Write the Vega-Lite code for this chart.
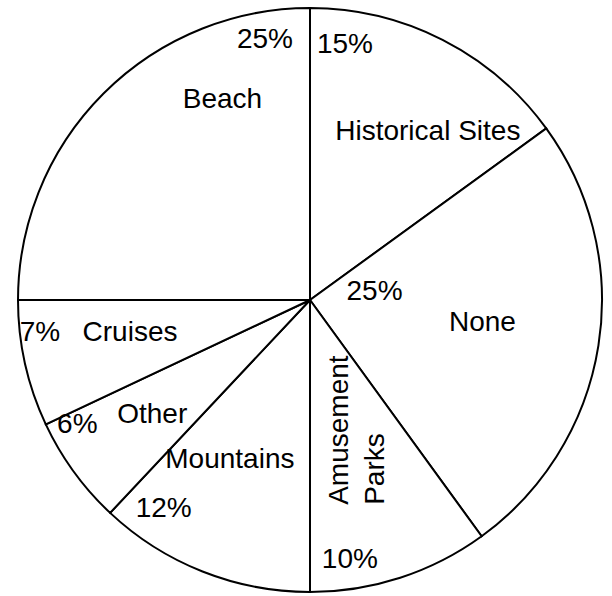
{
  "$schema": "https://vega.github.io/schema/vega-lite/v6.json",
  "width": 612,
  "height": 596,
  "autosize": {"type": "fit", "contains": "padding"},
  "padding": {"left": 8, "right": 0, "top": 4, "bottom": 0},
  "background": "white",
  "config": {"view": {"stroke": null}, "text": {"font": "Liberation Sans", "fontSize": 28, "fill": "black"}},
  "data": {"values": [
    {"name": "Historical Sites", "value": 15, "pct": "15%"},
    {"name": "None", "value": 25, "pct": "25%"},
    {"name": "Amusement\nParks", "value": 10, "pct": "10%"},
    {"name": "Mountains", "value": 12, "pct": "12%"},
    {"name": "Other", "value": 6, "pct": "6%"},
    {"name": "Cruises", "value": 7, "pct": "7%"},
    {"name": "Beach", "value": 25, "pct": "25%"}
  ]},
  "transform": [{"window": [{"op": "row_number", "as": "k"}]}],
  "encoding": {
    "theta": {"field": "value", "type": "quantitative", "stack": true},
    "order": {"field": "k", "type": "quantitative", "sort": "ascending"}
  },
  "layer": [
    {"mark": {"type": "arc", "fill": "white", "stroke": "black", "strokeWidth": 2}},
    {"mark": {"type": "text", "radius": 205, "thetaOffset": 0.141},
     "encoding": {"text": {"condition": {"test": "datum.name === 'Historical Sites'", "field": "name"}, "value": ""}}},
    {"mark": {"type": "text", "radius": 174, "thetaOffset": -0.024},
     "encoding": {"text": {"condition": {"test": "datum.name === 'None'", "field": "name"}, "value": ""}}},
    {"mark": {"type": "text", "radius": 179, "thetaOffset": 0.087},
     "encoding": {"text": {"condition": {"test": "datum.name === 'Mountains'", "field": "name"}, "value": ""}}},
    {"mark": {"type": "text", "radius": 195, "thetaOffset": 0.0},
     "encoding": {"text": {"condition": {"test": "datum.name === 'Other'", "field": "name"}, "value": ""}}},
    {"mark": {"type": "text", "radius": 183, "thetaOffset": 0.038},
     "encoding": {"text": {"condition": {"test": "datum.name === 'Cruises'", "field": "name"}, "value": ""}}},
    {"mark": {"type": "text", "radius": 218, "thetaOffset": 0.372},
     "encoding": {"text": {"condition": {"test": "datum.name === 'Beach'", "field": "name"}, "value": ""}}},
    {"mark": {"type": "text", "radius": 207, "thetaOffset": 0.169, "angle": 270, "align": "left", "lineBreak": "\n", "lineHeight": 36},
     "encoding": {"text": {"condition": {"test": "datum.name === 'Amusement\\nParks'", "field": "name"}, "value": ""}}},
    {"mark": {"type": "text", "radius": 257, "thetaOffset": -0.335},
     "encoding": {"text": {"condition": {"test": "datum.name === 'Historical Sites'", "field": "pct"}, "value": ""}}},
    {"mark": {"type": "text", "radius": 65, "thetaOffset": -0.279},
     "encoding": {"text": {"condition": {"test": "datum.name === 'None'", "field": "pct"}, "value": ""}}},
    {"mark": {"type": "text", "radius": 263, "thetaOffset": 0.162},
     "encoding": {"text": {"condition": {"test": "datum.name === 'Amusement\\nParks'", "field": "pct"}, "value": ""}}},
    {"mark": {"type": "text", "radius": 255, "thetaOffset": 0.234},
     "encoding": {"text": {"condition": {"test": "datum.name === 'Mountains'", "field": "pct"}, "value": ""}}},
    {"mark": {"type": "text", "radius": 264, "thetaOffset": 0.136},
     "encoding": {"text": {"condition": {"test": "datum.name === 'Other'", "field": "pct"}, "value": ""}}},
    {"mark": {"type": "text", "radius": 272, "thetaOffset": 0.1},
     "encoding": {"text": {"condition": {"test": "datum.name === 'Cruises'", "field": "pct"}, "value": ""}}},
    {"mark": {"type": "text", "radius": 264, "thetaOffset": 0.614},
     "encoding": {"text": {"condition": {"test": "datum.name === 'Beach'", "field": "pct"}, "value": ""}}}
  ]
}
